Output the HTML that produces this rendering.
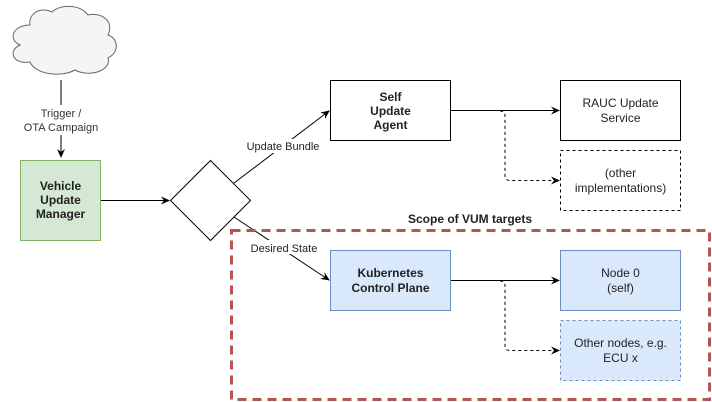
<!DOCTYPE html>
<html><head><meta charset="utf-8"><style>
html,body{margin:0;padding:0;background:#fff;}
svg{display:block;font-family:"Liberation Sans",Arial,sans-serif;}
</style></head><body>
<svg width="712" height="402" viewBox="0 0 712 402" xmlns="http://www.w3.org/2000/svg">
<defs>
<marker id="a" markerWidth="10" markerHeight="10" refX="8" refY="5" orient="auto" markerUnits="userSpaceOnUse">
<path d="M0,1 L9,5 L0,9 L3,5 Z" fill="#000"/></marker>
</defs>
<!-- cloud -->
<path d="M30,25 C12,25 8,40 20,45 C8,50 12,65 30,62 C35,74 60,78 75,70 C90,78 112,70 108,58 C120,52 118,38 108,35 C115,20 100,12 88,15 C80,4 60,4 52,12 C40,6 28,14 30,25 Z" fill="#f5f5f5" stroke="#666" stroke-width="1"/>
<line x1="61" y1="80" x2="61" y2="157" stroke="#000" marker-end="url(#a)"/>
<rect x="15" y="105" width="92" height="30" fill="#fff"/>
<text x="61" y="117" font-size="11" text-anchor="middle" fill="#333">Trigger /</text>
<text x="61" y="131" font-size="11" text-anchor="middle" fill="#333">OTA Campaign</text>
<!-- VUM -->
<rect x="20.5" y="160.5" width="80" height="80" fill="#d5e8d4" stroke="#82b366"/>
<text x="60.5" y="190" font-size="12" font-weight="bold" text-anchor="middle" fill="#222">Vehicle</text>
<text x="60.5" y="204" font-size="12" font-weight="bold" text-anchor="middle" fill="#222">Update</text>
<text x="60.5" y="218" font-size="12" font-weight="bold" text-anchor="middle" fill="#222">Manager</text>
<line x1="101" y1="200.5" x2="169" y2="200.5" stroke="#000" marker-end="url(#a)"/>
<!-- diamond -->
<path d="M210.5,160.5 L250.5,200.5 L210.5,240.5 L170.5,200.5 Z" fill="#fff" stroke="#000"/>
<line x1="234" y1="183" x2="329" y2="111" stroke="#000" marker-end="url(#a)"/>
<line x1="234" y1="217" x2="329" y2="280" stroke="#000" marker-end="url(#a)"/>
<rect x="244" y="139" width="78" height="14" fill="#fff"/>
<text x="283" y="150" font-size="11" text-anchor="middle" fill="#222">Update Bundle</text>
<!-- scope -->
<rect x="231.5" y="230.5" width="478" height="169" fill="none" stroke="#b85450" stroke-width="3" stroke-dasharray="9,6"/>
<text x="470" y="223" font-size="12" font-weight="bold" text-anchor="middle" fill="#222">Scope of VUM targets</text>
<rect x="246" y="240" width="76" height="14" fill="#fff"/>
<text x="284" y="252" font-size="11" text-anchor="middle" fill="#222">Desired State</text>
<!-- SUA -->
<rect x="330.5" y="80.5" width="120" height="60" fill="#fff" stroke="#000"/>
<text x="390.5" y="101" font-size="12" font-weight="bold" text-anchor="middle" fill="#222">Self</text>
<text x="390.5" y="115" font-size="12" font-weight="bold" text-anchor="middle" fill="#222">Update</text>
<text x="390.5" y="129" font-size="12" font-weight="bold" text-anchor="middle" fill="#222">Agent</text>
<line x1="451" y1="110.5" x2="559" y2="110.5" stroke="#000" marker-end="url(#a)"/>
<path d="M500,111 Q505,111 505,116 L505,176 Q505,180.5 510,180.5 L559,180.5" fill="none" stroke="#000" stroke-dasharray="3,3" marker-end="url(#a)"/>
<rect x="560.5" y="80.5" width="120" height="60" fill="#fff" stroke="#000"/>
<text x="620.5" y="107" font-size="12" text-anchor="middle" fill="#222">RAUC Update</text>
<text x="620.5" y="122" font-size="12" text-anchor="middle" fill="#222">Service</text>
<rect x="560.5" y="150.5" width="120" height="60" fill="#fff" stroke="#000" stroke-dasharray="3,3"/>
<text x="620.5" y="177" font-size="12" text-anchor="middle" fill="#222">(other</text>
<text x="620.5" y="192" font-size="12" text-anchor="middle" fill="#222">implementations)</text>
<!-- K8s -->
<rect x="330.5" y="250.5" width="120" height="60" fill="#dae8fc" stroke="#6c8ebf"/>
<text x="390.5" y="277" font-size="12" font-weight="bold" text-anchor="middle" fill="#222">Kubernetes</text>
<text x="390.5" y="292" font-size="12" font-weight="bold" text-anchor="middle" fill="#222">Control Plane</text>
<line x1="451" y1="280.5" x2="559" y2="280.5" stroke="#000" marker-end="url(#a)"/>
<path d="M500,281 Q505,281 505,286 L505,346 Q505,350.5 510,350.5 L559,350.5" fill="none" stroke="#000" stroke-dasharray="3,3" marker-end="url(#a)"/>
<rect x="560.5" y="250.5" width="120" height="60" fill="#dae8fc" stroke="#6c8ebf"/>
<text x="620.5" y="277" font-size="12" text-anchor="middle" fill="#222">Node 0</text>
<text x="620.5" y="292" font-size="12" text-anchor="middle" fill="#222">(self)</text>
<rect x="560.5" y="320.5" width="120" height="60" fill="#dae8fc" stroke="#6c8ebf" stroke-dasharray="3,3"/>
<text x="620.5" y="347" font-size="12" text-anchor="middle" fill="#222">Other nodes, e.g.</text>
<text x="620.5" y="362" font-size="12" text-anchor="middle" fill="#222">ECU x</text>
</svg>
</body></html>
